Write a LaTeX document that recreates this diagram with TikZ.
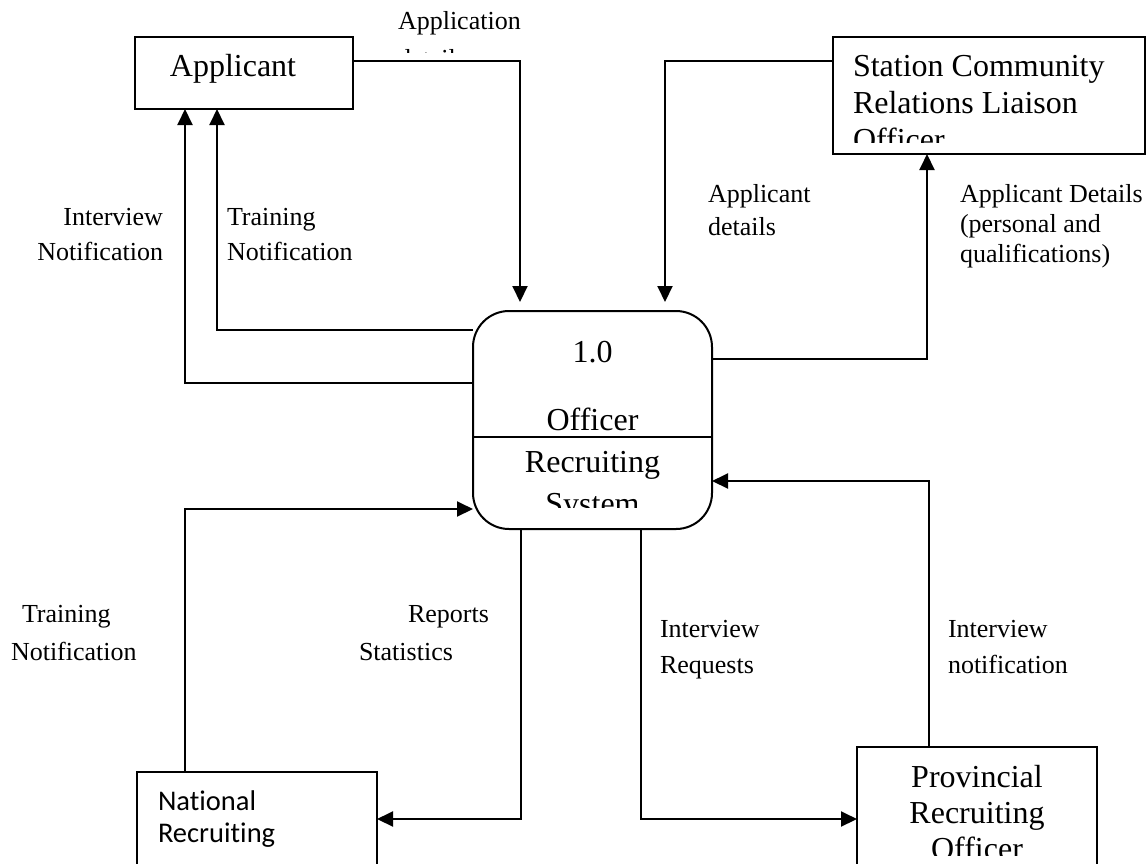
\documentclass[tikz,border=0pt]{standalone}
\usepackage{fontspec}
\setmainfont{Liberation Serif}
\newfontfamily\calibrifont[Ligatures=NoCommon]{Carlito}
\usetikzlibrary{arrows.meta}

% stacked lines: [alignment]{font size}{line spacing}{text}; baseline = first line
\newcommand\txtlines[4][l]{{\fontsize{#2}{#3}\selectfont\begin{tabular}[t]{@{}#1@{}}#4\end{tabular}}}

\tikzset{
  ent/.style={draw, line width=2pt, rectangle, inner sep=0pt, outer sep=0pt},
  flow/.style={line width=2pt, -{Triangle[length=16pt,width=15pt]}},
  lbl/.style={inner sep=0pt, outer sep=0pt},
}

\begin{document}
\begin{tikzpicture}[x=1pt,y=-1pt]
\useasboundingbox (0,0) rectangle (1148,863);
\fill[white] (0,0) rectangle (1148,863);

% external entities and the central process
\node[ent, minimum width=218pt, minimum height=72pt]  (app)  at (244,73)    {};
\node[ent, minimum width=312pt, minimum height=117pt] (scr)  at (989,95.5)  {};
\node[ent, rounded corners=36pt, minimum width=239pt, minimum height=218pt] (proc) at (592.5,420) {};
\node[ent, minimum width=240pt, minimum height=128pt] (nat)  at (257,836)   {};
\node[ent, minimum width=240pt, minimum height=153pt] (prov) at (977,823.5) {};

% process divider
\draw[line width=2pt] ([yshift=-17pt]proc.west) -- ([yshift=-17pt]proc.east);

% box texts
\node[lbl, anchor=base] (appT) at (233,76) {\txtlines[c]{32}{36}{Applicant}};
\begin{scope}
  \clip (833,37) rectangle (1145,142);
  \node[lbl, anchor=base west] (scrT) at (853,76)
    {\txtlines{32}{37}{Station Community\\Relations Liaison\\Officer}};
\end{scope}
\node[lbl, anchor=base] (procNum) at (592.5,362) {\txtlines[c]{32}{36}{1.0}};
\node[lbl, anchor=base] (procOff) at (592.5,430) {\txtlines[c]{32}{36}{Officer}};
\begin{scope}
  \clip (473,440) rectangle (712,507);
  \node[lbl, anchor=base] (procName) at (592.5,472)
    {\txtlines[c]{32}{42}{Recruiting\\System}};
\end{scope}
\node[lbl, anchor=base west] (natT) at (158,810)
  {\calibrifont\txtlines{28.5}{32}{National\\Recruiting}};
\begin{scope}
  \clip (857,747) rectangle (1097,855);
  \node[lbl, anchor=base] (provT) at (977,787)
    {\txtlines[c]{32}{36}{Provincial\\Recruiting\\Officer}};
\end{scope}

% data flows
\draw[flow] ([yshift=12pt]app.east) -| ([xshift=-72.5pt,yshift=9pt]proc.north);
\draw[flow] ([yshift=34.5pt]scr.west) -| ([xshift=72.5pt,yshift=9pt]proc.north);
\draw[flow] ([yshift=37pt]proc.west) -| ([xshift=-59pt]app.south);
\draw[flow] ([yshift=90pt]proc.west) -| ([xshift=-27pt]app.south);
\draw[flow] ([yshift=61pt]proc.east) -| ([xshift=-62pt]scr.south);
\draw[flow] ([xshift=-72pt]nat.north) |- ([yshift=-89pt]proc.west);
\draw[flow] ([xshift=-71.5pt]proc.south) |- ([yshift=17pt]nat.east);
\draw[flow] ([xshift=48.5pt]proc.south) |- ([yshift=4.5pt]prov.west);
\draw[flow] ([xshift=-48pt]prov.north) |- ([yshift=-61pt]proc.east);

% flow labels
\begin{scope}
  \clip (380,0) rectangle (560,52);
  \node[lbl, anchor=base west] (lAppDet) at (398,29)
    {\txtlines{26}{38}{Application\\details}};
\end{scope}
\node[lbl, anchor=base east] (lIntN) at (163,225) {\txtlines[r]{26}{35}{Interview\\Notification}};
\node[lbl, anchor=base west] (lTrnN) at (227,225) {\txtlines{26}{35}{Training\\Notification}};
\node[lbl, anchor=base west] (lApD)  at (708,202) {\txtlines{26}{33}{Applicant\\details}};
\node[lbl, anchor=base west] (lApDP) at (960,202)
  {\txtlines{26}{30}{Applicant Details\\(personal and\\qualifications)}};
\node[lbl, anchor=base west] (lTrnB) at (11,622)
  {\txtlines{26}{38}{\hspace{11pt}Training\\Notification}};
\node[lbl, anchor=base west] (lRep)  at (359,622)
  {\txtlines{26}{38}{\hspace{49pt}Reports\\Statistics}};
\node[lbl, anchor=base west] (lIntR) at (660,637) {\txtlines{26}{36}{Interview\\Requests}};
\node[lbl, anchor=base west] (lIntP) at (948,637) {\txtlines{26}{36}{Interview\\notification}};
\end{tikzpicture}
\end{document}
